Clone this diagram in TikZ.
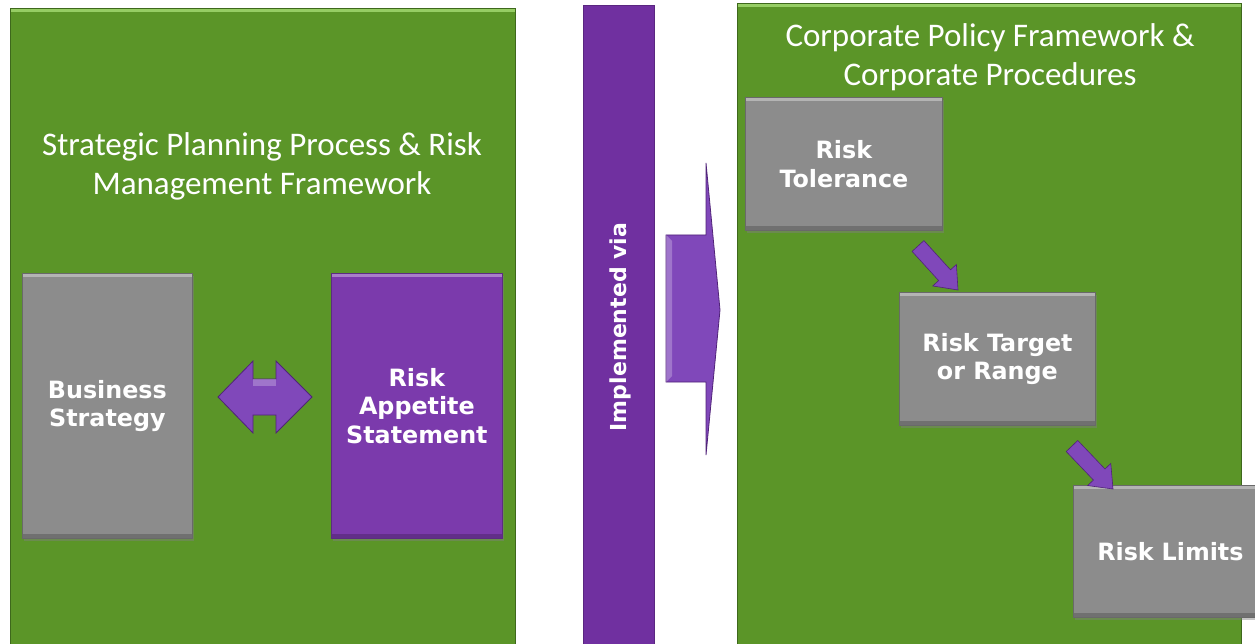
\documentclass[tikz,border=0pt]{standalone}
\usepackage{fontspec}
\setmainfont{Carlito}
\newfontfamily\boxfont{DejaVu Sans}
\usetikzlibrary{calc,shadows}
\definecolor{pgreen}{RGB}{91,149,40}
\definecolor{pgreenlight}{RGB}{150,205,100}
\definecolor{pgreendark}{RGB}{62,104,28}
\definecolor{pbar}{RGB}{112,48,160}
\definecolor{pbox}{RGB}{123,58,172}
\definecolor{parrow}{RGB}{128,72,186}
\definecolor{parrowdark}{RGB}{80,35,120}
\definecolor{pgray}{RGB}{140,140,140}
\tikzset{
  panel/.style={fill=pgreen, draw=pgreendark, line width=1pt, inner sep=0pt, anchor=north west,
    path picture={\fill[pgreenlight] (path picture bounding box.north west) rectangle ([yshift=-4pt]path picture bounding box.north east);}},
  boxbase/.style={line width=0.8pt, inner sep=0pt, anchor=north west, text=white, align=center,
    font=\boxfont\bfseries\fontsize{23.8}{28.5}\selectfont,
    drop shadow={shadow xshift=2pt, shadow yshift=-3pt, opacity=0.45},
    path picture={\fill[white,opacity=0.35] (path picture bounding box.north west) rectangle ([yshift=-4pt]path picture bounding box.north east);
                  \fill[black,opacity=0.2] (path picture bounding box.south west) rectangle ([yshift=4pt]path picture bounding box.south east);}},
  graybox/.style={boxbase, fill=pgray, draw=pgray!75!black},
  purplebox/.style={boxbase, fill=pbox, draw=pbox!75!black},
  title/.style={text=white, align=center, font=\fontsize{33}{39}\selectfont, inner sep=0pt},
  blockarrow/.style={fill=parrow, draw=parrowdark, line width=0.8pt, line join=miter},
}
\newcommand{\slantarrow}[2]{%
  \path (#1) coordinate (tmpA) (#2) coordinate (tmpB);
  \coordinate (tmpS) at ($(tmpB)!20pt!(tmpA)$);
  \fill[parrow, draw=parrowdark, line width=0.6pt]
    ($(tmpA)!8pt!90:(tmpB)$) -- ($(tmpS)!8pt!-90:(tmpA)$) -- ($(tmpS)!16pt!-90:(tmpA)$) -- (tmpB)
    -- ($(tmpS)!16pt!90:(tmpA)$) -- ($(tmpS)!8pt!90:(tmpA)$) -- ($(tmpA)!8pt!-90:(tmpB)$) -- cycle;
}
\begin{document}
\begin{tikzpicture}[x=1pt, y=-1pt]
\clip (0,0) rectangle (1255,644);
\fill[white] (0,0) rectangle (1255,644);
% panels
\node[panel, minimum width=505pt, minimum height=700pt] (lp) at (10,8) {};
\node[panel, minimum width=504pt, minimum height=700pt] (rp) at (737,3) {};
\node[fill=pbar, draw=pbar!80!black, line width=0.6pt, anchor=north west, minimum width=71pt, minimum height=700pt, inner sep=0pt] (bar) at (583,5) {};
% titles
\node[title] (lt) at (262,166.5) {Strategic Planning Process \& Risk\\Management Framework};
\node[title] (rtit) at (990,57) {Corporate Policy Framework \&\\Corporate Procedures};
\node[text=white, rotate=90, font=\boxfont\bfseries\fontsize{22}{26}\selectfont, inner sep=0pt] (impl) at (620,327) {Implemented via};
% boxes
\node[graybox, minimum width=170pt, minimum height=265pt] (bs) at (22,273) {Business\\Strategy};
\node[purplebox, minimum width=171pt, minimum height=265pt] (ras) at (331,273) {Risk\\Appetite\\Statement};
\node[graybox, minimum width=197pt, minimum height=133pt] (rt) at (745,97) {Risk\\Tolerance};
\node[graybox, minimum width=196pt, minimum height=133pt] (rtr) at (899,292) {Risk Target\\or Range};
\node[graybox, minimum width=194pt, minimum height=132pt, text width=194pt] (rl) at (1073,485) {Risk Limits};
% double arrow between bs and ras
\coordinate (dl) at (218,397);
\coordinate (dr) at (312,397);
\fill[blockarrow] (dl) -- (253,361) -- (253,379) -- (276,379) -- (276,361) -- (dr)
  -- (276,433) -- (276,415) -- (253,415) -- (253,433) -- cycle;
\fill[white, opacity=0.25] (253,379) -- (276,379) -- (276,386) -- (253,386) -- cycle;
% implemented-via arrow
\coordinate (bigtip) at (720,310);
\fill[blockarrow] (666,235) -- (706,235) -- (706,163) -- (bigtip) -- (706,455) -- (706,382) -- (666,382) -- cycle;
\fill[white, opacity=0.25] (666,235) -- (672,241) -- (672,376) -- (666,382) -- cycle;
% slanted arrows
\coordinate (a1) at (918,246);
\coordinate (b1) at (958,290);
\coordinate (a2) at (1072,446);
\coordinate (b2) at (1113,489);
\slantarrow{a1}{b1}
\slantarrow{a2}{b2}
\end{tikzpicture}
\end{document}
